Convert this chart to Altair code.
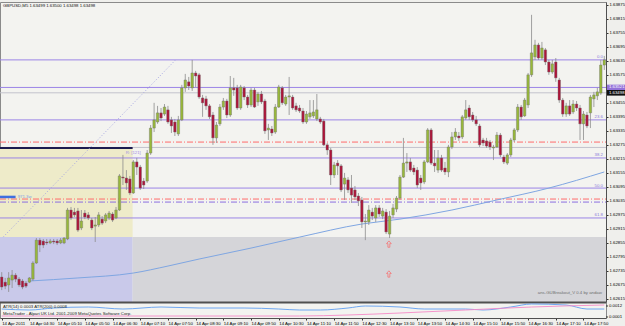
import altair as alt
import pandas as pd

# ---------------- data (GBPUSD M5, 14 Apr 2011, bars from 03:50) ----------------
opens = [
    1.62709, 1.62687, 1.62675, 1.62696, 1.62717, 1.62700, 1.62692, 1.62683, 1.62687, 1.62700,
    1.62769, 1.62867, 1.62863, 1.62859, 1.62855, 1.62863, 1.62863, 1.62855, 1.62855, 1.62872,
    1.62996, 1.62987, 1.62992, 1.62919, 1.62983, 1.62975, 1.62953, 1.62927, 1.62932, 1.62957,
    1.62949, 1.62962, 1.62979, 1.62962, 1.62996, 1.63137, 1.63133, 1.63129, 1.63069, 1.63202,
    1.63180, 1.63120, 1.63120, 1.63240, 1.63347, 1.63373, 1.63412, 1.63407, 1.63425, 1.63382,
    1.63373, 1.63322, 1.63382, 1.63519, 1.63545, 1.63519, 1.63583, 1.63575, 1.63476, 1.63472,
    1.63442, 1.63403, 1.63305, 1.63365, 1.63437, 1.63463, 1.63403, 1.63519, 1.63519, 1.63433,
    1.63519, 1.63480, 1.63446, 1.63510, 1.63459, 1.63493, 1.63463, 1.63339, 1.63343, 1.63330,
    1.63437, 1.63519, 1.63450, 1.63480, 1.63480, 1.63442, 1.63433, 1.63420, 1.63373, 1.63395,
    1.63399, 1.63386, 1.63386, 1.63377, 1.63275, 1.63253, 1.63146, 1.63197, 1.63185, 1.63107,
    1.63125, 1.63090, 1.63082, 1.63056, 1.63039, 1.62945, 1.62945, 1.62987, 1.62962, 1.63005,
    1.62970, 1.62987, 1.62893, 1.62975, 1.63000, 1.63047, 1.63137, 1.63197, 1.63202, 1.63176,
    1.63167, 1.63133, 1.63116, 1.63202, 1.63339, 1.63197, 1.63167, 1.63219, 1.63176, 1.63159,
    1.63266, 1.63309, 1.63313, 1.63309, 1.63390, 1.63433, 1.63403, 1.63382, 1.63356, 1.63296,
    1.63292, 1.63287, 1.63262, 1.63266, 1.63317, 1.63223, 1.63197, 1.63232, 1.63296, 1.63339,
    1.63437, 1.63399, 1.63446, 1.63575, 1.63652, 1.63703, 1.63647, 1.63682, 1.63630, 1.63587,
    1.63630, 1.63553, 1.63467, 1.63407, 1.63442, 1.63416, 1.63450, 1.63433, 1.63365, 1.63403,
    1.63412, 1.63472, 1.63485, 1.63497, 1.63617,
]
highs = [
    1.62730, 1.62705, 1.62730, 1.62739, 1.62726, 1.62709, 1.62700, 1.62692, 1.62709, 1.62777,
    1.62876, 1.62876, 1.62872, 1.62872, 1.62872, 1.62872, 1.62872, 1.62876, 1.62880, 1.63005,
    1.63009, 1.63005, 1.63005, 1.62996, 1.62996, 1.62987, 1.62962, 1.62966, 1.62987, 1.62970,
    1.62983, 1.62992, 1.62987, 1.63009, 1.63150, 1.63232, 1.63167, 1.63142, 1.63210, 1.63219,
    1.63189, 1.63133, 1.63253, 1.63360, 1.63455, 1.63442, 1.63433, 1.63450, 1.63442, 1.63395,
    1.63386, 1.63399, 1.63532, 1.63579, 1.63566, 1.63639, 1.63592, 1.63583, 1.63489, 1.63485,
    1.63450, 1.63416, 1.63373, 1.63450, 1.63476, 1.63472, 1.63570, 1.63562, 1.63532, 1.63532,
    1.63527, 1.63489, 1.63519, 1.63519, 1.63502, 1.63506, 1.63472, 1.63365, 1.63356, 1.63450,
    1.63532, 1.63527, 1.63489, 1.63566, 1.63489, 1.63455, 1.63446, 1.63433, 1.63420, 1.63467,
    1.63467, 1.63493, 1.63395, 1.63386, 1.63283, 1.63262, 1.63202, 1.63210, 1.63193, 1.63155,
    1.63137, 1.63146, 1.63099, 1.63069, 1.63052, 1.62979, 1.63017, 1.63005, 1.63017, 1.63017,
    1.63005, 1.63000, 1.62992, 1.63022, 1.63056, 1.63146, 1.63305, 1.63240, 1.63219, 1.63189,
    1.63180, 1.63146, 1.63210, 1.63347, 1.63347, 1.63253, 1.63253, 1.63232, 1.63202, 1.63275,
    1.63330, 1.63347, 1.63330, 1.63403, 1.63467, 1.63446, 1.63416, 1.63399, 1.63365, 1.63305,
    1.63305, 1.63296, 1.63275, 1.63330, 1.63326, 1.63232, 1.63240, 1.63305, 1.63347, 1.63450,
    1.63446, 1.63476, 1.63583, 1.63832, 1.63725, 1.63712, 1.63716, 1.63690, 1.63639, 1.63639,
    1.63647, 1.63562, 1.63476, 1.63455, 1.63467, 1.63467, 1.63463, 1.63446, 1.63420, 1.63416,
    1.63489, 1.63502, 1.63519, 1.63639, 1.63656,
]
lows = [
    1.62653, 1.62657, 1.62645, 1.62662, 1.62687, 1.62666, 1.62657, 1.62662, 1.62683, 1.62692,
    1.62765, 1.62816, 1.62833, 1.62846, 1.62850, 1.62850, 1.62846, 1.62850, 1.62850, 1.62867,
    1.62953, 1.62966, 1.62902, 1.62910, 1.62957, 1.62953, 1.62910, 1.62859, 1.62923, 1.62932,
    1.62940, 1.62953, 1.62945, 1.62957, 1.62992, 1.63103, 1.63082, 1.63060, 1.63065, 1.63146,
    1.63082, 1.63086, 1.63112, 1.63232, 1.63330, 1.63365, 1.63377, 1.63399, 1.63365, 1.63326,
    1.63313, 1.63313, 1.63377, 1.63502, 1.63510, 1.63506, 1.63523, 1.63472, 1.63395, 1.63425,
    1.63386, 1.63275, 1.63283, 1.63356, 1.63425, 1.63390, 1.63395, 1.63485, 1.63425, 1.63425,
    1.63467, 1.63433, 1.63437, 1.63433, 1.63442, 1.63450, 1.63322, 1.63296, 1.63313, 1.63322,
    1.63433, 1.63446, 1.63442, 1.63403, 1.63425, 1.63416, 1.63412, 1.63365, 1.63365, 1.63386,
    1.63390, 1.63377, 1.63365, 1.63270, 1.63232, 1.63103, 1.63133, 1.63146, 1.63073, 1.63039,
    1.63069, 1.63026, 1.63039, 1.63013, 1.62919, 1.62867, 1.62932, 1.62953, 1.62945, 1.62966,
    1.62957, 1.62893, 1.62876, 1.62962, 1.62987, 1.63039, 1.63133, 1.63159, 1.63159, 1.63146,
    1.63090, 1.63082, 1.63107, 1.63197, 1.63189, 1.63159, 1.63155, 1.63159, 1.63146, 1.63137,
    1.63257, 1.63296, 1.63292, 1.63300, 1.63382, 1.63382, 1.63373, 1.63356, 1.63266, 1.63270,
    1.63262, 1.63253, 1.63210, 1.63262, 1.63223, 1.63193, 1.63189, 1.63223, 1.63287, 1.63330,
    1.63382, 1.63395, 1.63433, 1.63566, 1.63639, 1.63639, 1.63639, 1.63617, 1.63575, 1.63579,
    1.63545, 1.63455, 1.63395, 1.63395, 1.63399, 1.63407, 1.63420, 1.63296, 1.63296, 1.63347,
    1.63347, 1.63437, 1.63467, 1.63489, 1.63596,
]
closes = [
    1.62666, 1.62670, 1.62705, 1.62717, 1.62700, 1.62675, 1.62666, 1.62670, 1.62705, 1.62769,
    1.62867, 1.62846, 1.62846, 1.62855, 1.62863, 1.62859, 1.62855, 1.62867, 1.62876, 1.62996,
    1.62962, 1.62975, 1.62910, 1.62949, 1.62966, 1.62962, 1.62919, 1.62932, 1.62975, 1.62940,
    1.62975, 1.62983, 1.62953, 1.62996, 1.63142, 1.63133, 1.63112, 1.63069, 1.63202, 1.63180,
    1.63090, 1.63103, 1.63240, 1.63347, 1.63382, 1.63412, 1.63390, 1.63437, 1.63373, 1.63356,
    1.63330, 1.63382, 1.63519, 1.63553, 1.63527, 1.63583, 1.63570, 1.63480, 1.63455, 1.63442,
    1.63395, 1.63305, 1.63360, 1.63437, 1.63463, 1.63403, 1.63519, 1.63510, 1.63433, 1.63523,
    1.63480, 1.63446, 1.63510, 1.63437, 1.63493, 1.63459, 1.63335, 1.63347, 1.63326, 1.63437,
    1.63523, 1.63455, 1.63480, 1.63485, 1.63433, 1.63425, 1.63420, 1.63373, 1.63407, 1.63412,
    1.63416, 1.63425, 1.63373, 1.63275, 1.63253, 1.63146, 1.63189, 1.63185, 1.63082, 1.63133,
    1.63082, 1.63060, 1.63052, 1.63035, 1.62945, 1.62949, 1.62996, 1.62970, 1.63005, 1.62979,
    1.62992, 1.62902, 1.62970, 1.63005, 1.63047, 1.63137, 1.63197, 1.63202, 1.63167, 1.63159,
    1.63103, 1.63112, 1.63202, 1.63339, 1.63197, 1.63185, 1.63219, 1.63167, 1.63159, 1.63266,
    1.63309, 1.63330, 1.63305, 1.63395, 1.63425, 1.63395, 1.63382, 1.63365, 1.63275, 1.63283,
    1.63270, 1.63266, 1.63266, 1.63317, 1.63232, 1.63202, 1.63232, 1.63296, 1.63339, 1.63437,
    1.63395, 1.63467, 1.63575, 1.63669, 1.63703, 1.63647, 1.63690, 1.63630, 1.63587, 1.63622,
    1.63562, 1.63467, 1.63407, 1.63442, 1.63407, 1.63450, 1.63433, 1.63365, 1.63407, 1.63356,
    1.63480, 1.63489, 1.63502, 1.63617, 1.63639,
]

tick_bars = [0, 8, 16, 24, 32, 40, 48, 56, 64, 72, 80, 88, 96, 104, 112, 120, 128, 136, 144, 152, 160, 168]
tick_labels = ["14 Apr 2011", "14 Apr 04:30", "14 Apr 05:10", "14 Apr 05:50", "14 Apr 06:30",
               "14 Apr 07:10", "14 Apr 07:50", "14 Apr 08:30", "14 Apr 09:10", "14 Apr 09:50",
               "14 Apr 10:30", "14 Apr 11:10", "14 Apr 11:50", "14 Apr 12:30", "14 Apr 13:10",
               "14 Apr 13:50", "14 Apr 14:30", "14 Apr 15:10", "14 Apr 15:50", "14 Apr 16:30",
               "14 Apr 17:10", "14 Apr 17:50"]

# the 1.63515 label is hidden under the two price boxes on the axis
price_ticks = [1.63875, 1.63815, 1.63755, 1.63695, 1.63635, 1.63575, 1.63455,
               1.63395, 1.63335, 1.63275, 1.63215, 1.63155, 1.63095, 1.63035, 1.62975,
               1.62915, 1.62855, 1.62795, 1.62735, 1.62675, 1.62615]

fib_levels = [1.63639, 1.63382, 1.63219, 1.63090, 1.62962]
fib_names = ["0.0", "23.6", "38.2", "50.0", "61.8"]
purple_lines = [1.63521]
gray_lines = [1.63498, 1.63264]
red_dashdot = [1.63287, 1.63043]
purple_dashdot = [1.63030]

box_x0 = [-0.5, -0.5, 37.8]
box_x1 = [37.8, 37.8, 174.5]
box_p0 = [1.62880, 1.62602, 1.62602]
box_p1 = [1.63262, 1.62880, 1.62880]
box_fill = ["#eeebc9", "#c9c9ea", "#d5d5d9"]

range_line_bars = [-0.5, 37.8]
range_line_price = 1.63262

trend_bars = [0.4, 50.2]
trend_prices = [1.62880, 1.63639]

ma_bars = [8, 22, 38, 48, 57, 72, 86, 104, 115, 130, 143, 158, 174]
ma_prices = [1.62692, 1.62705, 1.62726, 1.62756, 1.62786, 1.62833, 1.62880,
             1.62936, 1.62957, 1.62996, 1.63039, 1.63090, 1.63159]

arrow_bars = [111.8, 111.8]
arrow_prices = [1.62850, 1.62722]

atr14_bars = [0, 8, 15, 25, 35, 46, 57, 70, 80, 86, 92, 100, 105, 115, 122, 134, 139, 147, 153, 163, 169, 174]
atr14_vals = [0.0009, 0.0008, 0.0010, 0.0011, 0.0009, 0.0011, 0.0010, 0.0010, 0.0009, 0.0008, 0.0008,
              0.0010, 0.0012, 0.0011, 0.0009, 0.0009, 0.0008, 0.0011, 0.0014, 0.0013, 0.0009, 0.0009]
atr200_bars = [0, 40, 60, 86, 100, 115, 134, 153, 174]
atr200_vals = [0.0002, 0.0002, 0.0002, 0.0002, 0.0003, 0.0005, 0.0008, 0.0011, 0.0013]
atr_ticks = [0.0012, 0.0001]

axis_boxes_price = [1.63521, 1.63498]
axis_boxes_text = ["1.63521", "1.63498"]
axis_boxes_fill = ["#9473d9", "#111111"]

# ---------------- chart ----------------
W = 606          # plot width
HM = 300         # main window height
HT = 316         # main + ATR window
PAD_R, PAD_T, PAD_B = 625 - W, 2, 326 - 2 - HT
FONT = "Liberation Sans"
FS = 4.3

xs = alt.Scale(domain=[-0.5, 174.5], nice=False, zero=False, padding=0)
ys = alt.Scale(domain=[1.62602, 1.63887], range=[HM, 0], nice=False, zero=False, padding=0)
ya = alt.Scale(domain=[0, 0.0015], range=[HT, HM + 1], nice=False, zero=False, padding=0)

label_expr = "[" + ",".join("'%s'" % s for s in tick_labels) + "][round(datum.value/8)]"
x_axis = alt.Axis(values=tick_bars, labelExpr=label_expr, labelAlign="left",
                  labelFlush=False, labelOverlap=False, title=None, grid=False)


def X(f):
    return alt.X(f, type="quantitative", scale=xs, axis=x_axis)


def Y(f):
    return alt.Y(f, type="quantitative", scale=ys, axis=None)


def YA(f):
    return alt.Y(f, type="quantitative", scale=ya, axis=None)


candles = pd.DataFrame({"bar": list(range(len(opens))), "open": opens, "high": highs,
                        "low": lows, "close": closes})
candles["dir"] = ["up" if c >= o else "down" for o, c in zip(opens, closes)]

boxes = pd.DataFrame({"x0": box_x0, "x1": box_x1, "p0": box_p0, "p1": box_p1, "fill": box_fill})
box_layer = alt.Chart(boxes).mark_rect().encode(
    x=X("x0"), x2="x1", y=Y("p0"), y2="p1", color=alt.Color("fill:N", scale=None))


def hlines(vals, color, dash=None, width=1.0):
    kw = dict(color=color, strokeWidth=width)
    if dash:
        kw["strokeDash"] = dash
    return alt.Chart(pd.DataFrame({"p": vals})).mark_rule(**kw).encode(
        x=alt.value(0), x2=alt.value(W), y=Y("p"))


lv_fib = hlines(fib_levels, "#9b84e6")
lv_purple = hlines(purple_lines, "#9b84e6")
lv_gray = hlines(gray_lines, "#c2c2cc")
lv_red = hlines(red_dashdot, "#ff6b6b", [6, 2, 1, 2])
lv_pdash = hlines(purple_dashdot, "#8a6fe0", [6, 2, 1, 2])

range_line = alt.Chart(pd.DataFrame({"a": [range_line_bars[0]], "b": [range_line_bars[1]],
                                     "p": [range_line_price]})).mark_rule(
    color="#1c1c50", strokeWidth=2).encode(x=X("a"), x2="b", y=Y("p"))

trend = alt.Chart(pd.DataFrame({"a": [trend_bars[0]], "b": [trend_bars[1]],
                                "p": [trend_prices[0]], "q": [trend_prices[1]]})).mark_rule(
    color="#a4a4e2", strokeWidth=1, strokeDash=[1, 2]).encode(x=X("a"), x2="b", y=Y("p"), y2="q")

ma = alt.Chart(pd.DataFrame({"bar": ma_bars, "p": ma_prices})).mark_line(
    color="#7fa6e2", strokeWidth=1, interpolate="monotone").encode(x=X("bar"), y=Y("p"))

wicks = alt.Chart(candles).mark_rule(color="#8c8c8c", strokeWidth=0.8).encode(
    x=X("bar"), y=Y("low"), y2="high")

bodies = alt.Chart(candles).mark_bar(size=2.5, stroke="#707070", strokeWidth=0.4).encode(
    x=X("bar"),
    y=alt.Y("open:Q", scale=ys,
            axis=alt.Axis(orient="right", values=price_ticks, format=".5f", title=None,
                          labelOverlap=False, grid=False)),
    y2="close",
    color=alt.Color("dir:N", scale=alt.Scale(domain=["up", "down"], range=["#98b83a", "#ad1439"]),
                    legend=None))

arrow_path = "M0,-1L0.75,-0.15L0.3,-0.15L0.3,1L-0.3,1L-0.3,-0.15L-0.75,-0.15Z"
arrows = alt.Chart(pd.DataFrame({"bar": arrow_bars, "p": arrow_prices})).mark_point(
    shape=arrow_path, filled=False, color="#ff5a5a", size=40, strokeWidth=0.9).encode(
    x=X("bar"), y=Y("p"))

fib_text = alt.Chart(pd.DataFrame({"p": fib_levels, "t": fib_names, "bar": [173.6] * 5})).mark_text(
    align="right", baseline="bottom", dy=-0.5, fontSize=FS, font=FONT, color="#8a78d8").encode(
    x=X("bar"), y=Y("p"), text="t:N")

blue_tag = alt.Chart(pd.DataFrame({"a": [-0.5], "b": [4.0], "p": [1.63052]})).mark_rule(
    color="#3f6fe0", strokeWidth=2.5).encode(x=X("a"), x2="b", y=Y("p"))
blue_text = alt.Chart(pd.DataFrame({"bar": [4.6], "p": [1.63052], "t": ["971.3w"]})).mark_text(
    align="left", baseline="middle", fontSize=FS, font=FONT, color="#7c9ee6").encode(
    x=X("bar"), y=Y("p"), text="t:N")

range_text = alt.Chart(pd.DataFrame({"bar": [35.8], "p": [1.63250], "t": ["R: [121]"]})).mark_text(
    align="left", baseline="top", fontSize=FS, font=FONT, color="#a48ee2").encode(
    x=X("bar"), y=Y("p"), text="t:N")

wm = alt.Chart(pd.DataFrame({"bar": [173.3], "p": [1.62640],
                             "t": ["ans-GUBreakout_V 0.4 by andaw"]})).mark_text(
    align="right", baseline="middle", fontSize=FS, font=FONT, color="#707070").encode(
    x=X("bar"), y=Y("p"), text="t:N")

info = alt.Chart(pd.DataFrame({"t": ["GBPUSD,M5  1.63499 1.63500 1.63498 1.63498"]})).mark_text(
    align="left", baseline="top", fontSize=FS, font=FONT, color="#111111").encode(
    x=alt.value(3), y=alt.value(2), text="t:N")

ab = pd.DataFrame({"p": axis_boxes_price, "t": axis_boxes_text, "fill": axis_boxes_fill})
ab["lo"] = [v - 0.00012 for v in axis_boxes_price]
ab["hi"] = [v + 0.00012 for v in axis_boxes_price]
ab_rect = alt.Chart(ab).mark_rect().encode(
    x=alt.value(W + 1), x2=alt.value(W + 19), y=Y("lo"), y2="hi",
    color=alt.Color("fill:N", scale=None))
ab_text = alt.Chart(ab).mark_text(align="left", baseline="middle", fontSize=FS, font=FONT,
                                  color="white").encode(
    x=alt.value(W + 3), y=Y("p"), text="t:N")

sep = alt.Chart(pd.DataFrame({"a": [0]})).mark_rule(color="#505050", strokeWidth=2).encode(
    x=alt.value(0), x2=alt.value(W), y=alt.value(HM + 0.5))

# ATR sub-window (drawn in the same view, below the separator)
atr14 = alt.Chart(pd.DataFrame({"bar": atr14_bars, "v": atr14_vals})).mark_line(
    color="#5f9ef2", strokeWidth=0.9, interpolate="monotone").encode(x=X("bar"), y=YA("v"))
atr200 = alt.Chart(pd.DataFrame({"bar": atr200_bars, "v": atr200_vals})).mark_line(
    color="#f58ac6", strokeWidth=0.9, interpolate="monotone").encode(x=X("bar"), y=YA("v"))

atr_tick_df = pd.DataFrame({"v": atr_ticks, "t": ["%.4f" % v for v in atr_ticks]})
atr_tick_marks = alt.Chart(atr_tick_df).mark_rule(color="#333333", strokeWidth=1).encode(
    x=alt.value(W), x2=alt.value(W + 2), y=YA("v"))
atr_tick_text = alt.Chart(atr_tick_df).mark_text(
    align="left", baseline="middle", fontSize=FS, font=FONT, color="#000000").encode(
    x=alt.value(W + 3), y=YA("v"), text="t:N")

atr_t1 = alt.Chart(pd.DataFrame({"t": ["ATR(14) 0.0003  ATR(200) 0.0008"]})).mark_text(
    align="left", baseline="middle", fontSize=FS, font=FONT, color="#222222").encode(
    x=alt.value(3), y=alt.value(HM + 5), text="t:N")
atr_t2 = alt.Chart(pd.DataFrame({"t": ["MetaTrader - Alpari UK Ltd. 2001-2009 MetaQuotes Software Corp."]})).mark_text(
    align="left", baseline="middle", fontSize=FS, font=FONT, color="#222222").encode(
    x=alt.value(3), y=alt.value(HM + 12), text="t:N")

chart = alt.layer(
    box_layer, lv_fib, lv_purple, lv_gray, lv_red, lv_pdash, range_line, trend,
    ma, wicks, bodies, arrows, fib_text, blue_tag, blue_text, range_text, wm, info,
    ab_rect, ab_text, sep, atr14, atr200, atr_tick_marks, atr_tick_text, atr_t1, atr_t2
).resolve_scale(y="independent").properties(
    width=W, height=HT,
    autosize=alt.AutoSizeParams(type="none"),
    padding={"left": 0, "top": PAD_T, "right": PAD_R, "bottom": PAD_B},
    background="#efefec",
).configure_view(
    fill="#f3f3f0", stroke="#8a8a8a", strokeWidth=1
).configure_axis(
    labelFont=FONT, labelFontSize=FS, labelColor="#000000", tickColor="#333333",
    domainColor="#505050", tickSize=2, labelPadding=1, grid=False
)

chart.save("out.html", embed_options={"renderer": "svg", "actions": False})
